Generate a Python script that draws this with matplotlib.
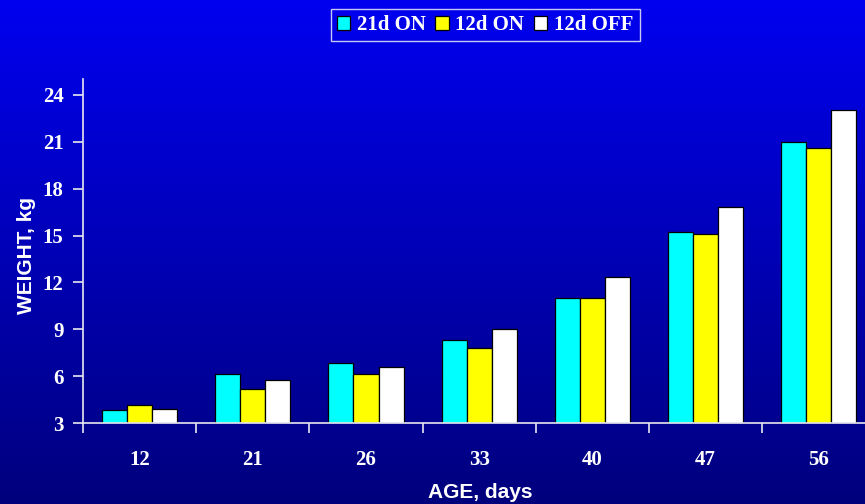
import matplotlib
matplotlib.use("Agg")
import matplotlib.pyplot as plt
import numpy as np

ages = ["12", "21", "26", "33", "40", "47", "56"]
series_names = ["21d ON", "12d ON", "12d OFF"]
on_21d = [3.83, 6.14, 6.88, 8.33, 11.02, 15.25, 21.0]
on_12d = [4.2, 5.18, 6.14, 7.82, 11.02, 15.1, 20.56]
off_12d = [3.92, 5.75, 6.58, 9.02, 12.37, 16.8, 23.0]
yticks = [3, 6, 9, 12, 15, 18, 21, 24]

colors = ["#00FFFF", "#FFFF00", "#FFFFFF"]

fig = plt.figure(figsize=(8.65, 5.04), dpi=100)

# blue gradient background
bg = fig.add_axes([0, 0, 1, 1], zorder=-10)
grad = np.linspace(0, 1, 256).reshape(-1, 1)
top = np.array([0, 0, 240]) / 255
bottom = np.array([0, 0, 125]) / 255
img = top[None, None, :] * (1 - grad[:, :, None]) + bottom[None, None, :] * grad[:, :, None]
bg.imshow(img, aspect="auto", extent=[0, 1, 0, 1])
bg.axis("off")

ax = fig.add_axes([83 / 865, 80.7 / 504, 792.4 / 865, 344.3 / 504])
ax.patch.set_alpha(0)

x = np.arange(len(ages))
w = 0.222
for i, (vals, c, name) in enumerate(zip([on_21d, on_12d, off_12d], colors, series_names)):
    ax.bar(x + (i - 1) * w, np.array(vals) - 3, w, bottom=3, color=c,
           edgecolor="black", linewidth=0.9, label=name)

ax.set_xlim(-0.5, len(ages) - 0.5)
ax.set_ylim(3, 25)
ax.set_yticks(yticks)
ax.set_yticklabels([str(t) for t in yticks])
ax.set_xticks(x)
ax.set_xticklabels(ages)
ax.set_xticks(np.arange(len(ages) + 1) - 0.5, minor=True)

for s in ["top", "right"]:
    ax.spines[s].set_visible(False)
for s in ["left", "bottom"]:
    ax.spines[s].set_color("#E8E8F0")
    ax.spines[s].set_linewidth(1.2)

tickfont = dict(family="Liberation Serif", weight="bold", size=15)
ax.tick_params(axis="x", which="major", length=0, pad=19, labelcolor="white")
ax.tick_params(axis="x", which="minor", length=7, width=1.2, color="#E8E8F0", direction="out")
ax.tick_params(axis="y", length=7, width=1.2, color="#E8E8F0", pad=7, labelcolor="white")
for lbl in ax.get_xticklabels() + ax.get_yticklabels():
    lbl.set_fontproperties(matplotlib.font_manager.FontProperties(**tickfont))

fig.text(480 / 865, 1 - 492 / 504, "AGE, days", ha="center", va="center",
         family="Liberation Sans", weight="bold", size=15, color="white")
fig.text(26 / 865, 1 - 256 / 504, "WEIGHT, kg", ha="center", va="center", rotation=90,
         family="Liberation Sans", weight="bold", size=15, color="white")

leg = fig.legend(loc="center", bbox_to_anchor=(485 / 865, 1 - 25 / 504), ncol=3,
                 frameon=True, fancybox=False, framealpha=1, borderpad=0.3,
                 handlelength=0.65, handleheight=0.65, handletextpad=0.32,
                 columnspacing=0.45, borderaxespad=0,
                 prop=dict(family="Liberation Serif", weight="bold", size=15))
leg.get_frame().set_facecolor("none")
leg.get_frame().set_edgecolor("#C8C8F0")
leg.get_frame().set_linewidth(1.0)
for t in leg.get_texts():
    t.set_color("white")

fig.savefig("out.png", dpi=100)
